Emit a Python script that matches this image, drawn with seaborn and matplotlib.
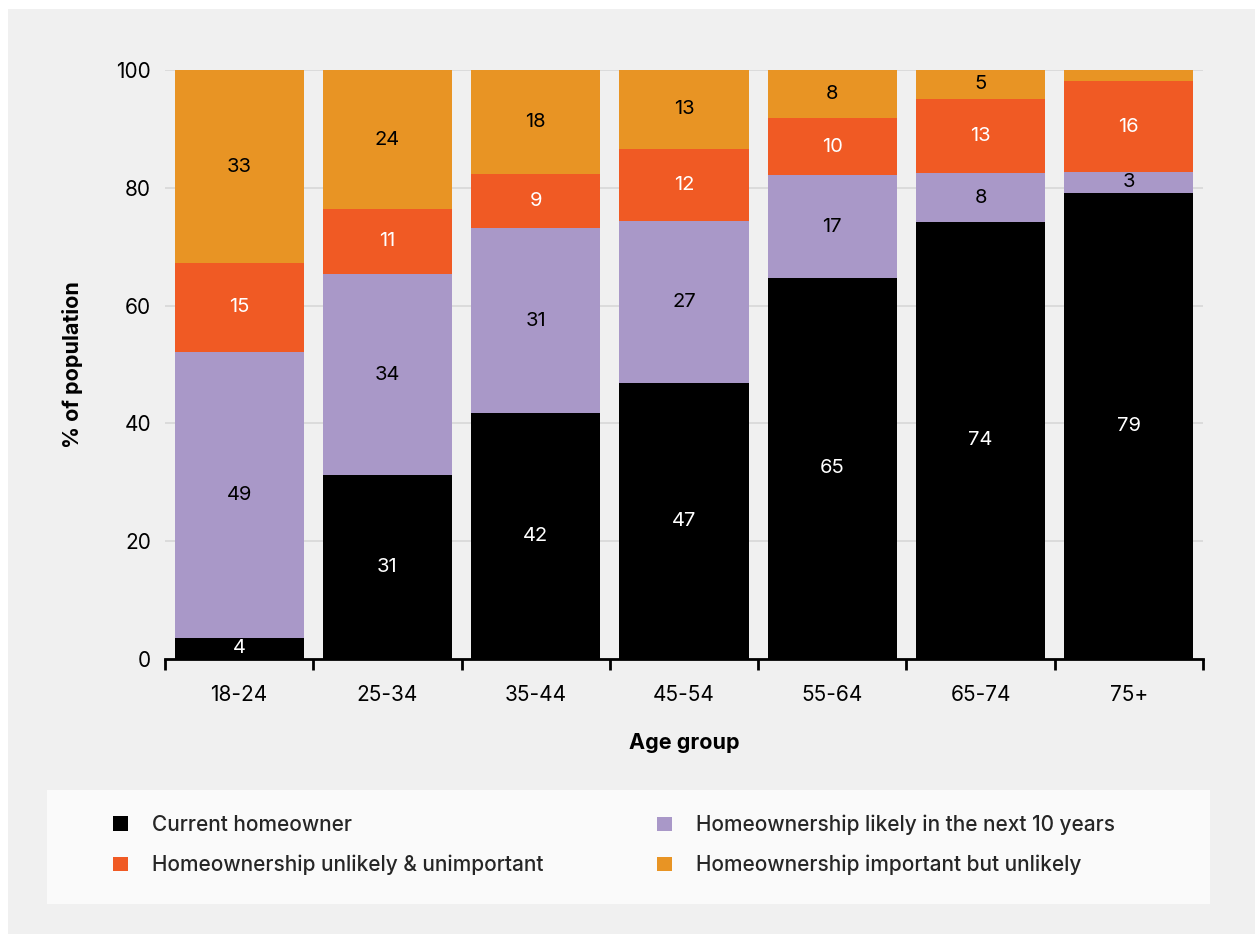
import matplotlib
matplotlib.use("Agg")
import matplotlib.pyplot as plt
from matplotlib.patches import Rectangle, Patch
from matplotlib.ticker import FixedLocator
import seaborn as sns
import numpy as np

age_groups = ["18-24", "25-34", "35-44", "45-54", "55-64", "65-74", "75+"]
current_owner = [3.6, 31.2, 41.7, 46.9, 64.7, 74.2, 79.2]
likely_10yrs = [48.6, 34.2, 31.4, 27.4, 17.4, 8.3, 3.4]
unlikely_unimportant = [15.0, 11.0, 9.3, 12.3, 9.8, 12.6, 15.6]
important_unlikely = [32.8, 23.6, 17.6, 13.4, 8.1, 4.9, 1.8]

series_names = ["Current homeowner", "Homeownership likely in the next 10 years",
                "Homeownership unlikely & unimportant", "Homeownership important but unlikely"]
series_vals = [current_owner, likely_10yrs, unlikely_unimportant, important_unlikely]
colors = ["#000000", "#a998c8", "#f05a24", "#e89424"]
text_colors = ["white", "black", "white", "black"]

sns.set_theme(style="white")
plt.rcParams["font.family"] = ["Inter", "DejaVu Sans"]

W, H = 1255, 934
fig = plt.figure(figsize=(W / 100, H / 100), dpi=100, facecolor="white")
fig.patches.append(Rectangle((8 / W, 0), 1 - 8 / W, 1 - 9 / H, transform=fig.transFigure,
                             facecolor="#f0f0f0", edgecolor="none", zorder=-10))
fig.patches.append(Rectangle((47 / W, 1 - 904 / H), (1210 - 47) / W, (904 - 790) / H,
                             transform=fig.transFigure, facecolor="#fafafa",
                             edgecolor="none", zorder=-5))

ax = fig.add_axes([165 / W, 1 - 659 / H, (1203 - 165) / W, (659 - 70) / H])
ax.set_facecolor("none")

vals = np.array(series_vals)
cum = np.cumsum(vals, axis=0)
# draw from top layer downward so the stacked look results
for i in range(3, -1, -1):
    sns.barplot(x=age_groups, y=cum[i], color=colors[i], saturation=1, width=0.87,
                ax=ax, zorder=2, linewidth=0)

bottoms = cum - vals
for i in range(4):
    for j in range(len(age_groups)):
        v = vals[i][j]
        if v < 2.5:
            continue
        ax.text(j, bottoms[i][j] + v / 2, f"{round(v)}", ha="center", va="center",
                color=text_colors[i], fontsize=14.5, zorder=5)

ax.set_xlim(-0.5, 6.5)
ax.set_ylim(0, 100)
ax.set_yticks([0, 20, 40, 60, 80, 100])
ax.yaxis.grid(True, color="#d9d9d9", linewidth=1.3, zorder=0)
ax.set_axisbelow(True)
for s in ["left", "right", "top"]:
    ax.spines[s].set_visible(False)
ax.spines["bottom"].set_color("black")
ax.spines["bottom"].set_linewidth(2)
ax.spines["bottom"].set_zorder(6)

ax.xaxis.set_minor_locator(FixedLocator(np.arange(-0.5, 7, 1)))
ax.tick_params(axis="x", which="minor", length=8, width=2, color="black", bottom=True)
ax.tick_params(axis="x", which="major", length=0, pad=19, labelsize=15, labelcolor="black")
ax.tick_params(axis="y", length=0, pad=10, labelsize=15, labelcolor="black")

ax.set_xlabel("Age group", fontsize=15.5, fontweight="bold", labelpad=20, color="black")
ax.set_ylabel("% of population", fontsize=15.5, fontweight="bold", labelpad=24, color="black")

handles = [Patch(facecolor=c, edgecolor="none") for c in colors]
leg_kw = dict(frameon=False, prop={"size": 15, "weight": "medium"}, handlelength=0.7,
              handleheight=0.7, handletextpad=1.15, labelspacing=0.95, borderpad=0,
              borderaxespad=0, loc="center left")
fig.legend([handles[0], handles[2]], [series_names[0], series_names[2]],
           bbox_to_anchor=(113 / W, 1 - 845 / H), **leg_kw)
fig.legend([handles[1], handles[3]], [series_names[1], series_names[3]],
           bbox_to_anchor=(657 / W, 1 - 845 / H), **leg_kw)

fig.savefig("out.png", dpi=100, facecolor="white")
